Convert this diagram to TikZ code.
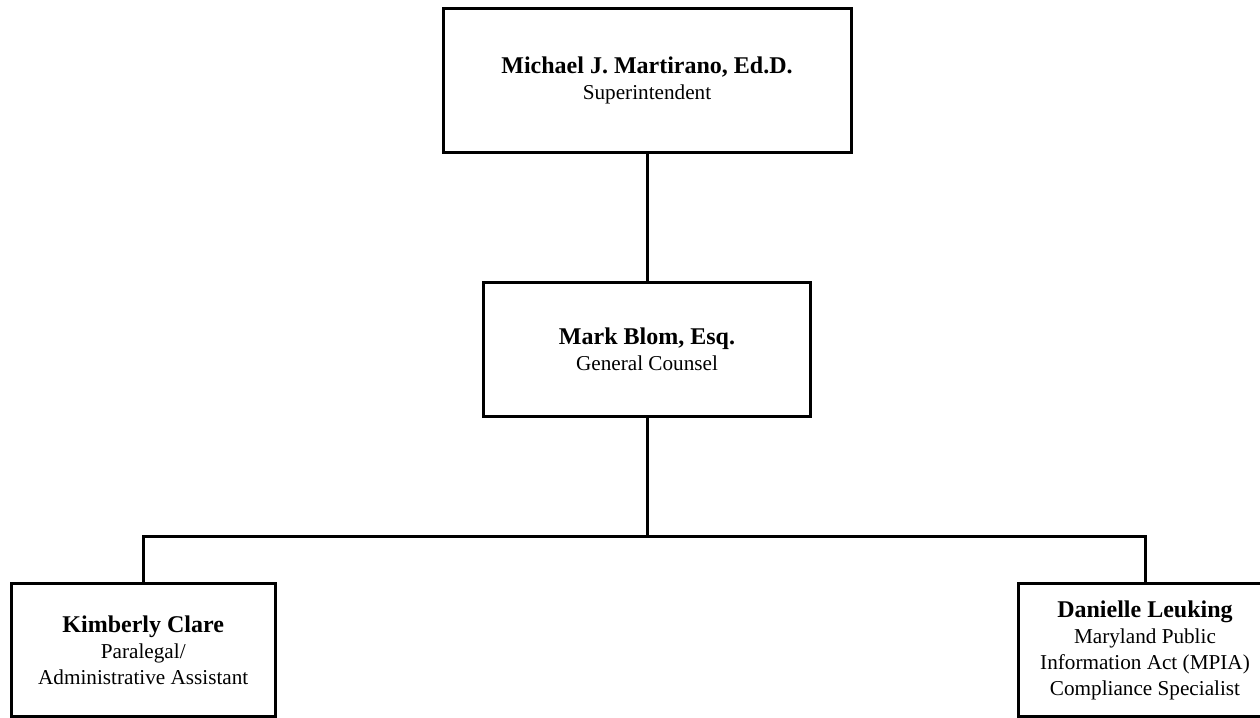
\documentclass[tikz,border=0pt]{standalone}
\usepackage{fontspec}
\setmainfont{Liberation Serif}
\tikzset{
  orgbox/.style={draw, line width=1.5pt, align=center, inner sep=0pt,
                 font=\fontsize{10.6}{13}\selectfont},
  orgline/.style={line width=1.5pt},
}
\newcommand{\staffname}[1]{{\fontsize{12}{13}\selectfont\bfseries #1}}

\begin{document}
\begin{tikzpicture}[x=0.5pt, y=-0.5pt]
    % Frame to fix the page size
    \useasboundingbox (0,0) rectangle (1260,718);
    % Superintendent
    \node[orgbox, minimum width=204pt,    minimum height=72pt]   (supt)      at (647, 80)     {\staffname{Michael J. Martirano, Ed.D.}\\Superintendent};
    % General Counsel
    \node[orgbox, minimum width=163.5pt,  minimum height=67pt]   (counsel)   at (647, 349)    {\staffname{Mark Blom, Esq.}\\General Counsel};
    % Staff
    \node[orgbox, minimum width=131.75pt, minimum height=66.5pt] (paralegal) at (143.25, 650) {\staffname{Kimberly Clare}\\Paralegal/\\Administrative Assistant};
    \node[orgbox, minimum width=126.5pt,  minimum height=66.5pt] (mpia)      at (1145, 650)   {\staffname{Danielle Leuking}\\Maryland Public\\Information Act (MPIA)\\Compliance Specialist};
    % Reporting lines
    \coordinate (bus) at (647, 536);
    \draw[orgline] (supt) -- (counsel);
    \draw[orgline] (counsel) -- (bus);
    \draw[orgline] (bus) -| (paralegal);
    \draw[orgline] (bus) -| (mpia);
\end{tikzpicture}
\end{document}
